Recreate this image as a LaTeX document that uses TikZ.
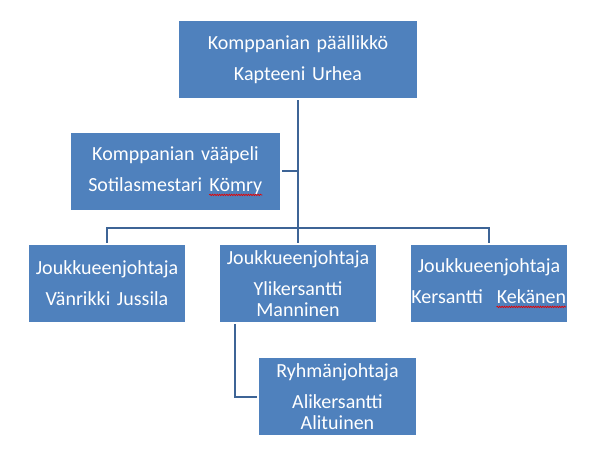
\documentclass[tikz,border=0pt]{standalone}
\usepackage{fontspec}
\setmainfont{Carlito}
\usetikzlibrary{decorations.pathmorphing}
\newcommand{\spellerr}[1]{\tikz[baseline=(w.base),x=1pt,y=1pt]{\node[inner sep=0pt,minimum height=0pt,minimum width=0pt,text width=,align=none,fill=none] (w) {#1};
	\draw[cwave,line width=0.7pt,decorate,decoration={snake,amplitude=0.7pt,segment length=2.4pt}] ([yshift=-3pt]w.base west) -- ([yshift=-3pt]w.base east);}}

\begin{document}
\begin{tikzpicture}[x=1pt,y=-1pt,
	orgbox/.style={fill=cbox,text=white,align=center,inner sep=0pt,minimum height=77pt,font=\fontsize{20}{20.7}\selectfont},
	link/.style={draw=cline,line width=2pt,shorten <=2pt}]
\definecolor{cbox}{RGB}{79,129,189}    %officeblue
\definecolor{cline}{RGB}{61,100,150}   %darkblue
\definecolor{cwave}{RGB}{230,0,0}      %spellred
\useasboundingbox (0,0) rectangle (596,462);
\node [orgbox,text width=238pt] (boss) at (298,59.5) {Komppanian päällikkö\\[10.3pt]Kapteeni Urhea};
\node [orgbox,text width=209pt] (sgt) at (175.5,171.5) {Komppanian vääpeli\\[10.3pt]Sotilasmestari \spellerr{Kömry}};
\node [orgbox,text width=156pt] (plt1) at (107,283.5) {Joukkueenjohtaja\\[10.3pt]Vänrikki Jussila};
\node [orgbox,text width=156pt] (plt2) at (298,283.5) {Joukkueenjohtaja\\[10.3pt]Ylikersantti\\Manninen};
\node [orgbox,text width=156pt] (plt3) at (489,283.5) {Joukkueenjohtaja\\[10.3pt]Kersantti\ \ \spellerr{Kekänen}};
\node [orgbox,text width=157pt] (squad) at (337.5,396.5) {Ryhmänjohtaja\\[10.3pt]Alikersantti\\Alituinen};
\coordinate (bus) at (298,228);
\draw [link,shorten >=2pt] (boss.south) -- (plt2.north);
\draw [link] (sgt.east) -- (sgt.east -| boss.south);
\draw [link,shorten >=2pt] (plt1.north) |- (bus) -| (plt3.north);
\draw [link,shorten >=2pt] ([xshift=15pt]plt2.south west) |- (squad.west);
\end{tikzpicture}
\end{document}
